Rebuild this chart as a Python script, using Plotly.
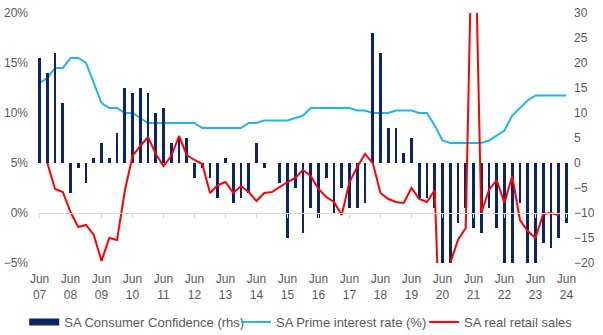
import plotly.graph_objects as go

years = list(range(2007, 2025))
months = ["Mar", "Jun", "Sep", "Dec"]
quarters = []
for y in years:
    for m in months:
        lab = f"{m} {str(y)[2:]}"
        if (y == 2007 and m == "Mar") or (y == 2024 and m in ("Sep", "Dec")):
            continue
        quarters.append(lab)

tick_vals = [q for q in quarters if q.startswith("Jun")]
tick_text = [q.replace(" ", "<br>") for q in tick_vals]

consumer_conf = [21, 18, 22, 12, -6, -1, -4, 1, 4, 1, 6, 15, 14, 15, 14, 10,
                 11, 4, 5, 5, -3, -1, -3, -7, 1, -8, -7, -6, 4, -1, 0, -4,
                 -15, -5, -14, -9, -11, -3, -10, -5, -9, -9, -8, 26, 22, 7, 7, 2,
                 5, -7, -7, -9, -33, -23, -12, -9, -13, -14, -9, -13, -25, -20, -8, -23,
                 -25, -16, -17, -15, -12]

prime_rate = [13.0, 13.5, 14.5, 14.5, 15.5, 15.5, 15.0, 13.0, 11.0, 10.5, 10.5, 10.0, 10.0, 9.5, 9.0, 9.0,
              9.0, 9.0, 9.0, 9.0, 9.0, 8.5, 8.5, 8.5, 8.5, 8.5, 8.5, 9.0, 9.0, 9.25, 9.25, 9.25,
              9.25, 9.5, 9.75, 10.5, 10.5, 10.5, 10.5, 10.5, 10.5, 10.25, 10.25, 10.0, 10.0, 10.0, 10.25, 10.25,
              10.25, 10.0, 10.0, 8.75, 7.25, 7.0, 7.0, 7.0, 7.0, 7.0, 7.25, 7.75, 8.25, 9.75, 10.5, 11.25,
              11.75, 11.75, 11.75, 11.75, 11.75]

retail_sales = [None, 5.0, 2.4, 2.1, 0.1, -1.4, -1.2, -2.2, -4.8, -2.5, -2.7, 2.2, 5.7, 6.7, 7.6, 5.9,
                4.7, 5.7, 7.7, 5.8, 5.3, 4.9, 2.0, 2.8, 3.1, 2.0, 2.7, 2.1, 1.2, 2.0, 2.1, 2.6,
                3.1, 3.5, 4.3, 3.7, 2.4, 1.6, 1.1, -0.2, 3.1, 4.6, 5.9, 5.0, 2.0, 1.4, 1.1, 1.0,
                2.5, 1.4, 1.1, 2.3, -20.0, -5.0, -2.7, -1.5, 36.0, 0.0, 2.3, 3.3, 1.0, 3.7, -0.7, -1.8,
                -2.5, -0.1, 0.0, -0.2, None]

NAVY = "#0B2466"
LBLUE = "#1FB4EE"
RED = "#FF0000"
GREY = "#595959"
FONT = "Liberation Sans, Arial, sans-serif"

fig = go.Figure()
fig.add_trace(go.Bar(x=quarters, y=consumer_conf, yaxis="y2", marker_color=NAVY,
                     marker_line_width=0, width=0.34, showlegend=False,
                     name="SA Consumer Confidence (rhs)"))
fig.add_trace(go.Scatter(x=[None], y=[None], mode="lines", line=dict(color=NAVY, width=7),
                         name="SA Consumer Confidence (rhs)", legend="legend"))
fig.add_trace(go.Scatter(x=quarters, y=prime_rate, mode="lines", line=dict(color=LBLUE, width=2),
                         name="SA Prime interest rate (%)", legend="legend2"))
fig.add_trace(go.Scatter(x=quarters, y=retail_sales, mode="lines", xaxis="x2",
                         line=dict(color=RED, width=2), name="SA real retail sales",
                         legend="legend3"))

xr = [-0.2, len(quarters) - 1 + 0.2]
leg = dict(orientation="h", y=-0.236, yanchor="middle", xanchor="left",
           font=dict(size=13, color=GREY), itemwidth=30, bgcolor="rgba(0,0,0,0)")
fig.update_layout(
    width=603, height=335,
    margin=dict(l=38, r=35, t=13, b=72, autoexpand=False),
    paper_bgcolor="white", plot_bgcolor="white",
    font=dict(family=FONT, size=12, color=GREY),
    bargap=0,
    xaxis=dict(type="category", categoryorder="array", categoryarray=quarters,
               range=xr, tickvals=tick_vals, ticktext=tick_text, showgrid=False,
               showline=False, zeroline=False, ticks="", tickfont=dict(size=12, color=GREY),
               ticklabelstandoff=7),
    xaxis2=dict(type="category", categoryorder="array", categoryarray=quarters,
                range=xr, overlaying="x", anchor="free", position=0.2,
                showline=True, linecolor="#D9D9D9", linewidth=1,
                ticks="outside", ticklen=4, tickcolor="#D9D9D9", tickwidth=1,
                tickvals=tick_vals, showticklabels=False, showgrid=False, zeroline=False),
    yaxis=dict(range=[-5, 20], dtick=5, ticksuffix="%", showgrid=False, zeroline=False,
               showline=False, ticks="", ticklabelstandoff=9, tickfont=dict(size=12, color=GREY)),
    yaxis2=dict(range=[-20, 30], dtick=5, overlaying="y", side="right", showgrid=False,
                zeroline=False, showline=False, ticks="", ticklabelstandoff=5,
                tickfont=dict(size=12, color=GREY)),
    legend=dict(leg, x=-0.026),
    legend2=dict(leg, x=0.3735),
    legend3=dict(leg, x=0.7285),
)

fig.write_html("out.html")
